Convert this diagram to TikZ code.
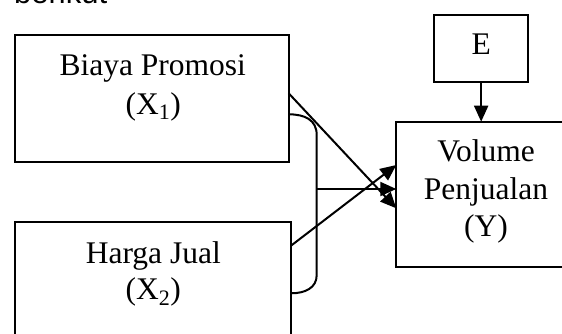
\documentclass[tikz,border=0pt]{standalone}
\usepackage{fontspec}
\setmainfont{Liberation Serif}
\newfontfamily\headfont{Liberation Sans}
\usetikzlibrary{arrows.meta}
\tikzset{
  box/.style={draw, line width=2pt, minimum width=#1, inner sep=0pt, outer sep=0pt},
  txt/.style={inner sep=0pt, anchor=base, font=\fontsize{31.5}{37}\selectfont},
  conn/.style={line width=2pt},
  arr/.style={line width=2pt, -{Triangle[length=16pt,width=14pt]}}
}
\begin{document}
\begin{tikzpicture}[x=1pt,y=-1pt]
\useasboundingbox (0,0) rectangle (562,333);
\clip (0,0) rectangle (562,333);
\fill[white] (0,0) rectangle (562,333);
% cropped heading line
\node[inner sep=0pt, anchor=base west, font=\headfont\fontsize{31}{37}\selectfont] (head) at (14,3.5) {berikut};
% boxes
\node[box=274pt, minimum height=127.3pt] (x1) at (151.7,98.65) {};
\node[box=276.3pt, minimum height=122.7pt] (x2) at (152.85,283.65) {};
\node[box=94.3pt, minimum height=67.3pt] (e) at (481.15,48.65) {};
\node[box=173.7pt, minimum height=145pt] (y) at (483.15,194.2) {};
% texts
\node[txt] (t1) at (152.8,75) {Biaya Promosi};
\node[txt] (t1b) at (153.3,114) {(X\textsubscript{1})};
\node[txt] (t2) at (153.3,263.3) {Harga Jual};
\node[txt] (t2b) at (153.3,299) {(X\textsubscript{2})};
\node[txt] (te) at (481.3,54) {E};
\node[txt] (ty1) at (486,161.7) {Volume};
\node[txt] (ty2) at (486,199) {Penjualan};
\node[txt] (ty3) at (486,236.7) {(Y)};
% bracket
\coordinate (bt) at (316.7,135);
\coordinate (bb) at (316.7,275);
\draw[conn] (x1.east |- 0,114.3) .. controls (305,114.3) and (316.7,120) .. (bt) -- (bb) .. controls (316.7,288) and (305,293.3) .. (x2.east |- 0,293.3);
\coordinate (bm) at (316.7,189);
\draw[arr] (bm) -- (y.west |- bm);
% arrows
\draw[arr] (x1.east |- 0,93.3) -- (y.west |- 0,208.3);
\draw[arr] (x2.east |- 0,245.7) -- (y.west |- 0,165);
\draw[arr] (e) -- (y.north -| e);
\end{tikzpicture}
\end{document}
